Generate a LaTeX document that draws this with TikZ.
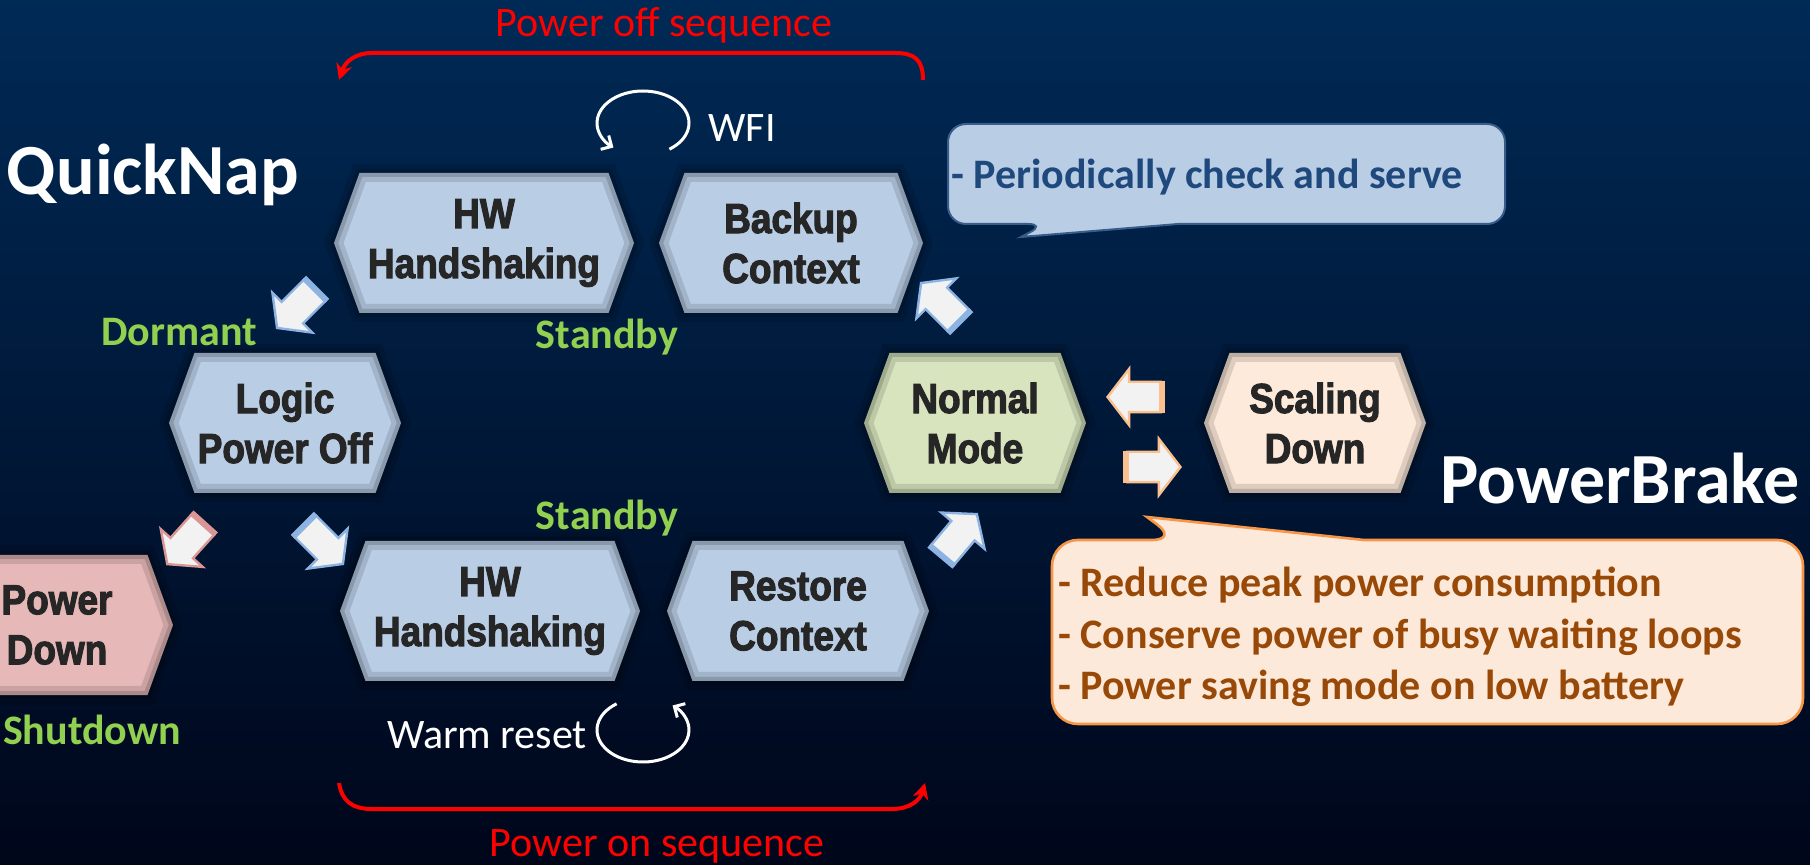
\documentclass[tikz,border=0pt]{standalone}
\usepackage{fontspec}
\setmainfont{Carlito}
\newfontfamily\hexfont[FakeStretch=0.88,FakeBold=2.5]{Liberation Sans}
\usetikzlibrary{
	positioning,
	calc,
	shapes.symbols,
	shapes.arrows,
	arrows.meta
}

\definecolor{bgtop}{RGB}{0,42,86}
\definecolor{bgmid}{RGB}{0,22,52}
\definecolor{bgbot}{RGB}{0,6,26}
\definecolor{hexblue}{HTML}{B9CDE5}
\definecolor{hexgreen}{HTML}{D7E4BD}
\definecolor{hexpeach}{HTML}{FDEADA}
\definecolor{hexpink}{HTML}{E6B9B8}
\definecolor{hexink}{HTML}{262626}
\definecolor{modegreen}{HTML}{92D050}
\definecolor{seqred}{HTML}{FF0000}
\definecolor{edgeblue}{HTML}{8DB3E2}
\definecolor{edgepink}{HTML}{D99694}
\definecolor{edgeorange}{HTML}{FAC090}
\definecolor{tipfill}{HTML}{B9CDE5}
\definecolor{tipline}{HTML}{385D8A}
\definecolor{tipink}{HTML}{1F497D}
\definecolor{notefill}{HTML}{FDE9D9}
\definecolor{noteline}{HTML}{F79646}
\definecolor{noteink}{HTML}{984807}

\begin{document}
\begin{tikzpicture}[x=0.5pt,y=-0.5pt,
	hexstate/.style={signal, signal to=east and west, signal pointer angle=140,
		minimum height=70pt, inner sep=0pt, fill=#1, text=hexink, align=center,
		font=\hexfont\bfseries\fontsize{21}{25}\selectfont,
		postaction={draw=black, line width=9pt, opacity=.12},
		postaction={draw=black, line width=4pt, opacity=.15}},
	flow/.style={single arrow, draw=#1, fill=white!95!black, line width=1.2pt,
		minimum height=0pt, minimum width=0pt, inner xsep=9.8pt, inner ysep=7pt,
		single arrow head extend=6.5pt, single arrow tip angle=105},
	mode/.style={text=modegreen, font=\bfseries\fontsize{21}{25}\selectfont},
	title/.style={text=white, font=\bfseries\fontsize{36}{40}\selectfont},
	seqtext/.style={text=seqred, font=\fontsize{21}{25}\selectfont},
	seqarc/.style={seqred, line width=2pt, -{Stealth[length=8pt,width=8pt]}},
	looptext/.style={text=white, font=\fontsize{21}{25}\selectfont},
	loopy/.style={white, line width=1.5pt, -{Straight Barb[length=4pt,width=8pt]}}
]
	\useasboundingbox (0,0) rectangle (1810,865);
	\clip (0,0) rectangle (1810,865);
	\shade[top color=bgtop, middle color=bgmid, bottom color=bgbot] (0,0) rectangle (1810,865);

	% states
	\draw
		node [hexstate=hexblue, minimum width=150pt]  (hwoff)   at (484,243) {HW\\Handshaking}
		node [hexstate=hexblue, minimum width=132pt]  (backup)  at (791,243) {Backup\\Context}
		node [hexstate=hexblue, minimum width=116pt]  (logic)   at (285,423) {Logic\\Power Off}
		node [hexstate=hexgreen, minimum width=111pt] (normal)  at (975,423) {Normal\\Mode}
		node [hexstate=hexpeach, minimum width=111pt] (scaling) at (1315,423) {Scaling\\Down}
		node [hexstate=hexblue, minimum width=150pt]  (hwon)    at (490,611) {HW\\Handshaking}
		node [hexstate=hexblue, minimum width=131pt]  (restore) at (798,611) {Restore\\Context}
		node [hexstate=hexpink, minimum width=116pt]  (pdown)   at (57,625)  {Power\\Down}
	;

	% transitions
	\draw
		node [flow=edgeblue, rotate=225]   (a1) at (300,305)  {}
		node [flow=edgepink, rotate=228]   (a2) at (189,540)  {}
		node [flow=edgeblue, rotate=-45]   (a3) at (320,541)  {}
		node [flow=edgeblue, rotate=50]    (a4) at (956,539)  {}
		node [flow=edgeblue, rotate=135]   (a5) at (944,306)  {}
		node [flow=edgeorange, rotate=180] (a6) at (1140,397) {}
		node [flow=edgeorange]             (a7) at (1148,467) {}
	;
	\foreach \a/\c in {a1/edgeblue,a2/edgepink,a3/edgeblue,a4/edgeblue,a5/edgeblue,a6/edgeorange,a7/edgeorange}
		\draw[\c, line width=3pt] (\a.before tail) -- (\a.after tail);

	% mode labels
	\node[mode] (dormant)  at (179,332) {Dormant};
	\node[mode] (stbyoff)  at (607,337) {Standby};
	\node[mode] (stbyon)   at (607,518) {Standby};
	\node[mode] (shutdown) at (92,730)  {Shutdown};

	\node[title] (quick) at (153,175)  {QuickNap};
	\node[title] (brake) at (1620,479) {PowerBrake};

	% sequences
	\node[seqtext] (offseq) at (664,25)  {Power off sequence};
	\node[seqtext] (onseq)  at (657,846) {Power on sequence};
	\draw[seqarc] (923,80) .. controls (923,60) and (915,53) .. (895,53)
		-- (372,53) .. controls (355,53) and (345,62) .. (339,80);
	\draw[seqarc] (339,783) .. controls (342,801) and (352,809) .. (372,809)
		-- (892,809) .. controls (910,809) and (920,800) .. (925,783);

	% loops
	\coordinate (wfi) at (643,123);
	\coordinate (warm) at (643,730);
	\draw[loopy] (wfi) ++(-55:23pt and 16pt)
		arc[start angle=-55, end angle=230, x radius=23pt, y radius=16pt];
	\draw[loopy] (warm) ++(125:23pt and 16pt)
		arc[start angle=125, end angle=410, x radius=23pt, y radius=16pt];
	\node[looptext] (wfitext)  at (742,128) {WFI};
	\node[looptext] (warmtext) at (487,735) {Warm reset};

	% callouts
	\filldraw[fill=tipfill, draw=tipline, line width=1pt]
		(1200,124) [rounded corners=9pt] -- (948,124) -- (948,224) -- (1046,224)
		[sharp corners] -- (1021,237) -- (1178,224)
		[rounded corners=9pt] -- (1505,224) -- (1505,124) -- cycle;
	\node[anchor=west, inner sep=0pt, text=tipink, font=\bfseries\fontsize{21}{25}\selectfont]
		(serve) at (951,177) {- Periodically check and serve};

	\filldraw[fill=notefill, draw=noteline, line width=1.3pt]
		(1052,630) [rounded corners=13pt] -- (1052,540) -- (1178,540)
		[sharp corners] -- (1147,517) -- (1364,540)
		[rounded corners=13pt] -- (1803,540) -- (1803,724) -- (1052,724) -- cycle;
	\node[anchor=west, inner sep=0pt, align=left, text=noteink,
		font=\bfseries\fontsize{21}{25.75}\selectfont]
		(brakenote) at (1058,637) {- Reduce peak power consumption\\- Conserve power of busy waiting loops\\- Power saving mode on low battery};
\end{tikzpicture}
\end{document}
